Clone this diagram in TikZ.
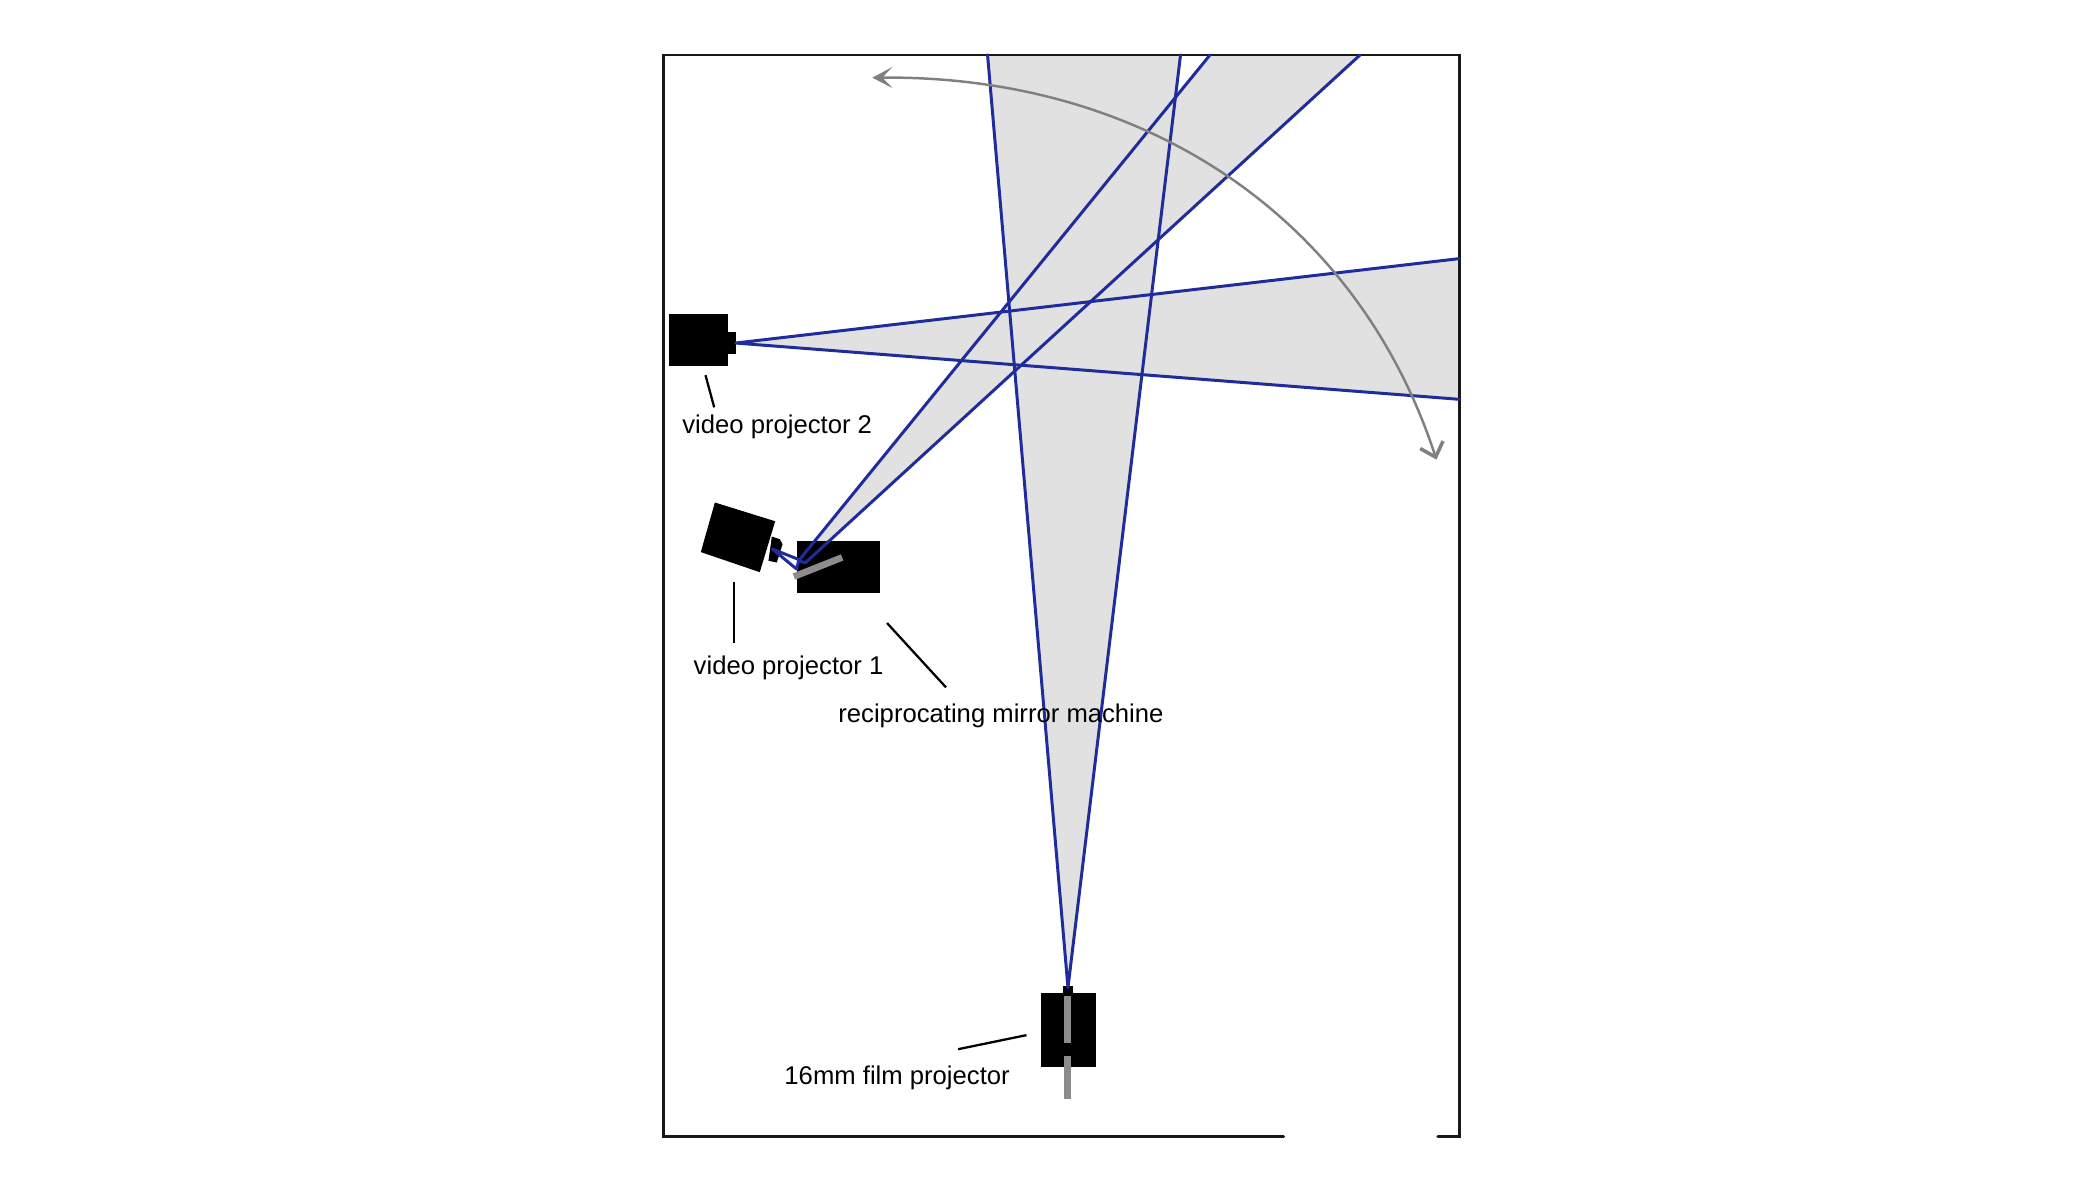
\documentclass[tikz,border=0pt]{standalone}
\usepackage{fontspec}
\setmainfont{Liberation Sans}
\usetikzlibrary{arrows.meta}
\definecolor{beamblue}{HTML}{1F2C9C}
\definecolor{beamgray}{HTML}{E1E1E1}
\definecolor{partgray}{HTML}{8C8C8C}
\definecolor{arcgray}{HTML}{808080}
\tikzset{
  beam/.style={fill=beamgray,draw=none},
  ray/.style={draw=beamblue,line width=0.85pt,line cap=round,line join=round},
  solidpart/.style={fill=black,draw=none},
  slider/.style={fill=partgray,draw=none},
  leader/.style={draw=black,line width=0.65pt},
  frameline/.style={draw=black!90,line width=0.75pt,line cap=round,line join=miter},
  lab/.style={font=\fontsize{7.3}{8.7}\selectfont,text=black,inner sep=0pt,anchor=center},
  sweep/.style={draw=arcgray,line width=0.7pt,{Stealth[length=2mm,width=2.1mm,inset=1mm]}-{Straight Barb[length=1.3mm,width=2.4mm,line width=1pt]}}
}
\begin{document}
\begin{tikzpicture}[x=0.0134cm,y=-0.0134cm]
\path[fill=white] (0,0) rectangle (1567.2,895.5);
\useasboundingbox (0,0) rectangle (1567.2,895.5);
% projection apexes
\coordinate (filmA) at (797,737);
\coordinate (filmL) at (737,41);
\coordinate (filmR) at (881,41);
\coordinate (vtwoA) at (549,256);
\coordinate (vtwoU) at (1089,193);
\coordinate (vtwoD) at (1089,298);
\coordinate (mirL) at (596,418.5);
\coordinate (mirR) at (601,420);
\coordinate (mirTL) at (903,41);
\coordinate (mirTR) at (1015,41);
% grey light cones
\fill[beam] (filmA) -- (filmL) -- (filmR) -- cycle;
\fill[beam] (vtwoA) -- (vtwoU) -- (vtwoD) -- cycle;
\fill[beam] (mirL) -- (mirTL) -- (mirTR) -- (mirR) -- cycle;
% frame with gap
\draw[frameline] (958,848) -- (495,848) -- (495,41) -- (1089,41) -- (1089,848) -- (1073,848);
% video projector 2
\fill[solidpart] (499.5,234.5) rectangle (543,273);
\fill[solidpart] (543,248) rectangle (549.5,264.5);
% video projector 1
\fill[solidpart] (533.5,375) -- (578.5,389) -- (567,427) -- (523,412) -- cycle;
\fill[solidpart] (576,400.4) -- (582,402.4) -- (584,406.1) -- (579.7,419.8) -- (573.5,418.5) -- cycle;
% mirror machine
\fill[solidpart] (595,404) rectangle (657,442.5);
% film projector
\fill[solidpart] (777,741) rectangle (818,796.5);
\fill[solidpart] (793,736) rectangle (800.5,741);
\fill[slider] (794.3,743.3) rectangle (799.5,778);
\fill[slider] (794.3,788.4) rectangle (799.5,820);
% rays
\draw[ray] (filmL) -- (filmA) -- (filmR);
\draw[ray] (vtwoU) -- (vtwoA) -- (vtwoD);
\draw[ray] (mirTL) -- (mirL);
\draw[ray] (mirTR) -- (mirR) -- (mirL);
\coordinate (lensP) at (576.5,409.8);
\coordinate (mirB) at (594.5,424.7);
\draw[ray] (lensP) -- (595.5,417.3) -- (mirL) -- (mirB) -- cycle;
% mirror
\draw[partgray,line width=1.9pt] (592.5,430.3) -- (628.5,416);
% sweep arc
\coordinate (sweepS) at (651,58);
\coordinate (sweepE) at (1072,343);
\draw[sweep] (sweepS) .. controls (852,56) and (1012,160) .. (sweepE);
% labels and leaders
\node[lab] (ltwo) at (580,318.5) {video projector 2};
\node[lab] (lone) at (588.5,498.5) {video projector 1};
\node[lab] (lmir) at (747,534) {reciprocating mirror machine};
\node[lab] (lfilm) at (669.5,804.5) {16mm film projector};
\coordinate (a1) at (526.5,280); \coordinate (a2) at (533,304);
\coordinate (b1) at (547.5,434); \coordinate (b2) at (547.5,480);
\coordinate (c1) at (662,465); \coordinate (c2) at (706,513);
\coordinate (d1) at (715,783); \coordinate (d2) at (766,772.5);
\draw[leader] (a1) -- (a2);
\draw[leader] (b1) -- (b2);
\draw[leader] (c1) -- (c2);
\draw[leader] (d1) -- (d2);
\end{tikzpicture}
\end{document}
